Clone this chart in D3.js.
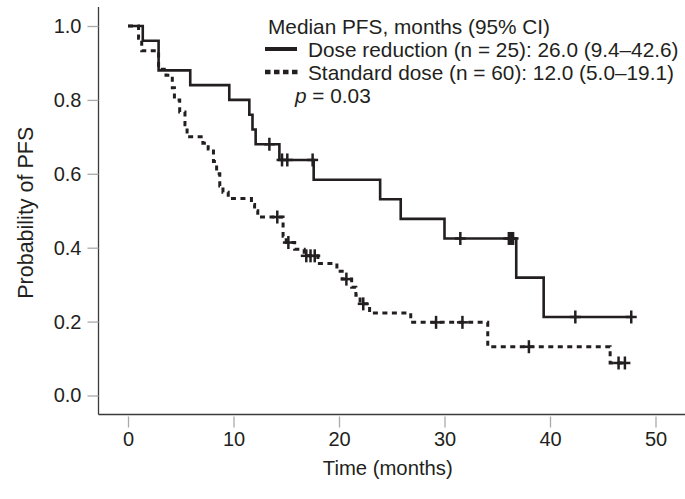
<!DOCTYPE html>
<html>
<head>
<meta charset="utf-8">
<script src="https://cdn.jsdelivr.net/npm/d3@7"></script>
<style>
  html, body { margin: 0; padding: 0; background: #fff; }
  svg { display: block; font-family: "Liberation Sans", Arial, sans-serif; }
</style>
</head>
<body>
<svg id="chart" width="685" height="499"></svg>
<script>
// ---- data ----
const xTicks = [0, 10, 20, 30, 40, 50];
const yTicks = [0.0, 0.2, 0.4, 0.6, 0.8, 1.0];

// Dose reduction (n = 25): step times and survival after each step
const doseTimes = [0, 1.4, 2.9, 5.9, 9.6, 11.5, 11.8, 12.1, 14.35, 17.6, 23.9, 25.85, 30.0, 36.8, 39.4];
const doseSurv  = [1.0, 0.96, 0.88, 0.84, 0.80, 0.76, 0.72, 0.68, 0.6375, 0.584, 0.531, 0.478, 0.425, 0.319, 0.2125];
const doseCensor = [13.4, 14.6, 15.1, 17.5, 31.5, 36.1, 36.3, 36.5, 42.4, 47.7];

// Standard dose (n = 60)
const stdTimes = [0, 1.0, 1.3, 2.9, 3.6, 4.2, 4.4, 4.9, 5.4, 5.6, 7.1, 7.6, 8.1, 8.4, 8.7, 9.0, 9.5, 11.7, 12.0, 12.3, 14.7, 15.0, 15.8, 16.7, 18.0, 19.8, 20.3, 21.2, 21.6, 22.0, 22.9, 26.8, 34.1, 45.7];
const stdSurv  = [1.0, 0.967, 0.933, 0.883, 0.867, 0.833, 0.80, 0.767, 0.733, 0.70, 0.683, 0.667, 0.633, 0.60, 0.567, 0.55, 0.533, 0.517, 0.50, 0.483, 0.431, 0.414, 0.396, 0.378, 0.357, 0.336, 0.315, 0.293, 0.271, 0.248, 0.223, 0.198, 0.132, 0.088];
const stdCensor = [14.15, 15.2, 16.9, 17.3, 17.7, 20.7, 22.3, 29.2, 31.7, 38.0, 46.5, 47.1];

const legendTitle = "Median PFS, months (95% CI)";
const seriesLabels = ["Dose reduction (n = 25): 26.0 (9.4\u201342.6)", "Standard dose (n = 60): 12.0 (5.0\u201319.1)"];
const xTitle = "Time (months)";
const yTitle = "Probability of PFS";

// ---- layout ----
const svg = d3.select("#chart");
const ink = "#231f20";
const x = d3.scaleLinear().domain([0, 50]).range([128, 655.5]);
const y = d3.scaleLinear().domain([0, 1]).range([395.5, 26]);
const axisX0 = 98.5, axisY0 = 414.5;

// axis lines
svg.append("line").attr("x1", axisX0).attr("x2", axisX0).attr("y1", 7).attr("y2", axisY0)
  .attr("stroke", "#3a3a3a").attr("stroke-width", 1.3);
svg.append("line").attr("x1", axisX0).attr("x2", 685).attr("y1", axisY0).attr("y2", axisY0)
  .attr("stroke", "#3a3a3a").attr("stroke-width", 1.3);

const gx = svg.append("g").attr("transform", `translate(0,${axisY0})`)
  .call(d3.axisBottom(x).tickValues(xTicks).tickSize(11).tickSizeOuter(0).tickPadding(6).tickFormat(d3.format("d")));
const gy = svg.append("g").attr("transform", `translate(${axisX0},0)`)
  .call(d3.axisLeft(y).tickValues(yTicks).tickSize(11).tickSizeOuter(0).tickPadding(6).tickFormat(d3.format(".1f")));
[gx, gy].forEach(g => {
  g.select(".domain").remove();
  g.selectAll(".tick line").attr("stroke", "#aaaaaa").attr("stroke-width", 1.3);
  g.selectAll(".tick text").attr("fill", ink).attr("font-size", 20)
    .attr("font-family", '"Liberation Sans", Arial, sans-serif');
});
gx.selectAll(".tick line").attr("transform", "translate(0,2)");

svg.append("text").attr("x", (x(0) + x(50)) / 2 - 4).attr("y", 475).attr("text-anchor", "middle")
  .attr("font-size", 20.3).attr("fill", ink).text(xTitle);
svg.append("text").attr("transform", `translate(33,${y(0.5) + 2}) rotate(-90)`).attr("text-anchor", "middle")
  .attr("font-size", 21.5).attr("fill", ink).text(yTitle);

// ---- curves ----
function stepData(times, surv, censor) {
  const pts = times.map((t, i) => [t, surv[i]]);
  const end = d3.max(censor);
  pts.push([end, surv[surv.length - 1]]);
  return pts;
}
function survAt(times, surv, t) {
  const i = d3.bisectRight(times, t) - 1;
  return surv[Math.max(0, i)];
}
const line = d3.line().x(d => x(d[0])).y(d => y(d[1])).curve(d3.curveStepAfter);

svg.append("path").datum(stepData(doseTimes, doseSurv, doseCensor))
  .attr("d", line).attr("fill", "none").attr("stroke", ink).attr("stroke-width", 2.6);
svg.append("path").datum(stepData(stdTimes, stdSurv, stdCensor))
  .attr("d", line).attr("fill", "none").attr("stroke", ink).attr("stroke-width", 3)
  .attr("stroke-dasharray", "5,4.5");

function censorMarks(times, surv, censor) {
  const g = svg.append("g").attr("stroke", ink).attr("stroke-width", 2.5);
  censor.forEach(t => {
    const cx = x(t), cy = y(survAt(times, surv, t));
    g.append("line").attr("x1", cx).attr("x2", cx).attr("y1", cy - 6.5).attr("y2", cy + 6.5);
    g.append("line").attr("x1", cx - 5.5).attr("x2", cx + 5.5).attr("y1", cy).attr("y2", cy);
  });
}
censorMarks(doseTimes, doseSurv, doseCensor);
censorMarks(stdTimes, stdSurv, stdCensor);

// ---- legend ----
const lg = svg.append("g").attr("font-size", 20.8).attr("fill", ink);
lg.append("text").attr("x", 268).attr("y", 34).text(legendTitle);
lg.append("line").attr("x1", 265).attr("x2", 297).attr("y1", 49).attr("y2", 49)
  .attr("stroke", ink).attr("stroke-width", 4);
lg.append("text").attr("x", 308).attr("y", 57).text(seriesLabels[0]);
lg.append("line").attr("x1", 265).attr("x2", 298).attr("y1", 72).attr("y2", 72)
  .attr("stroke", ink).attr("stroke-width", 4.5).attr("stroke-dasharray", "5.5,3.5");
lg.append("text").attr("x", 308).attr("y", 80).text(seriesLabels[1]);
const pt = lg.append("text").attr("x", 295).attr("y", 103);
pt.append("tspan").attr("font-style", "italic").text("p");
pt.append("tspan").text(" = 0.03");
</script>
</body>
</html>
